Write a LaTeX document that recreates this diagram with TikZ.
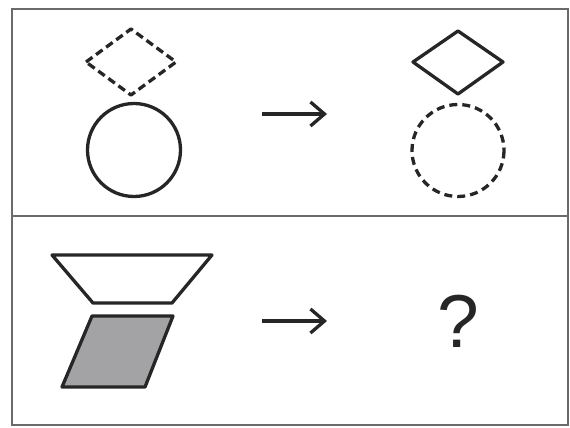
\documentclass[tikz,border=0pt]{standalone}
\usepackage{fontspec}
\setmainfont{Liberation Sans}
\usetikzlibrary{arrows.meta}
\definecolor{framegray}{HTML}{6A6A6A}
\definecolor{fillgray}{HTML}{A3A3A6}
\tikzset{
  frameline/.style={draw=framegray, line width=2.2pt},
  shapeline/.style={draw=black!85, line width=3.3pt, line join=round},
  dashline/.style={shapeline, dash pattern=on 8pt off 4.5pt},
  arrowline/.style={draw=black!85, line width=3.3pt, -{Straight Barb[length=14pt,width=24pt,line width=3.3pt]}},
}
\begin{document}
\begin{tikzpicture}[x=1pt,y=-1pt]
\useasboundingbox (0,0) rectangle (570,428);
% frame
\draw[frameline] (12,9) rectangle (568,425);
\draw[frameline] (12,216) -- (568,216);
% top left
\draw[dashline] (86,62) -- (131,29) -- (176,62) -- (131,95) -- cycle;
\draw[shapeline] (134,150) circle (46.5);
% top arrow
\coordinate (a1) at (262,114);
\coordinate (b1) at (327,114);
\draw[arrowline] (a1) -- (b1);
% top right
\draw[shapeline] (413,62) -- (458,31) -- (503,62) -- (458,94) -- cycle;
\draw[dashline, dash pattern=on 8pt off 5pt] (458,150.5) circle (46);
% bottom left
\draw[shapeline] (52,255) -- (212,255) -- (172,303) -- (93,303) -- cycle;
\draw[shapeline, fill=fillgray] (92,316) -- (173,316) -- (145,387) -- (62,387) -- cycle;
% bottom arrow
\coordinate (a2) at (262,321);
\coordinate (b2) at (327,321);
\draw[arrowline] (a2) -- (b2);
% question mark
\node[inner sep=0pt, text=black!85, font=\fontsize{75}{80}\selectfont] (q) at (458,321.5) {?};
\end{tikzpicture}
\end{document}
